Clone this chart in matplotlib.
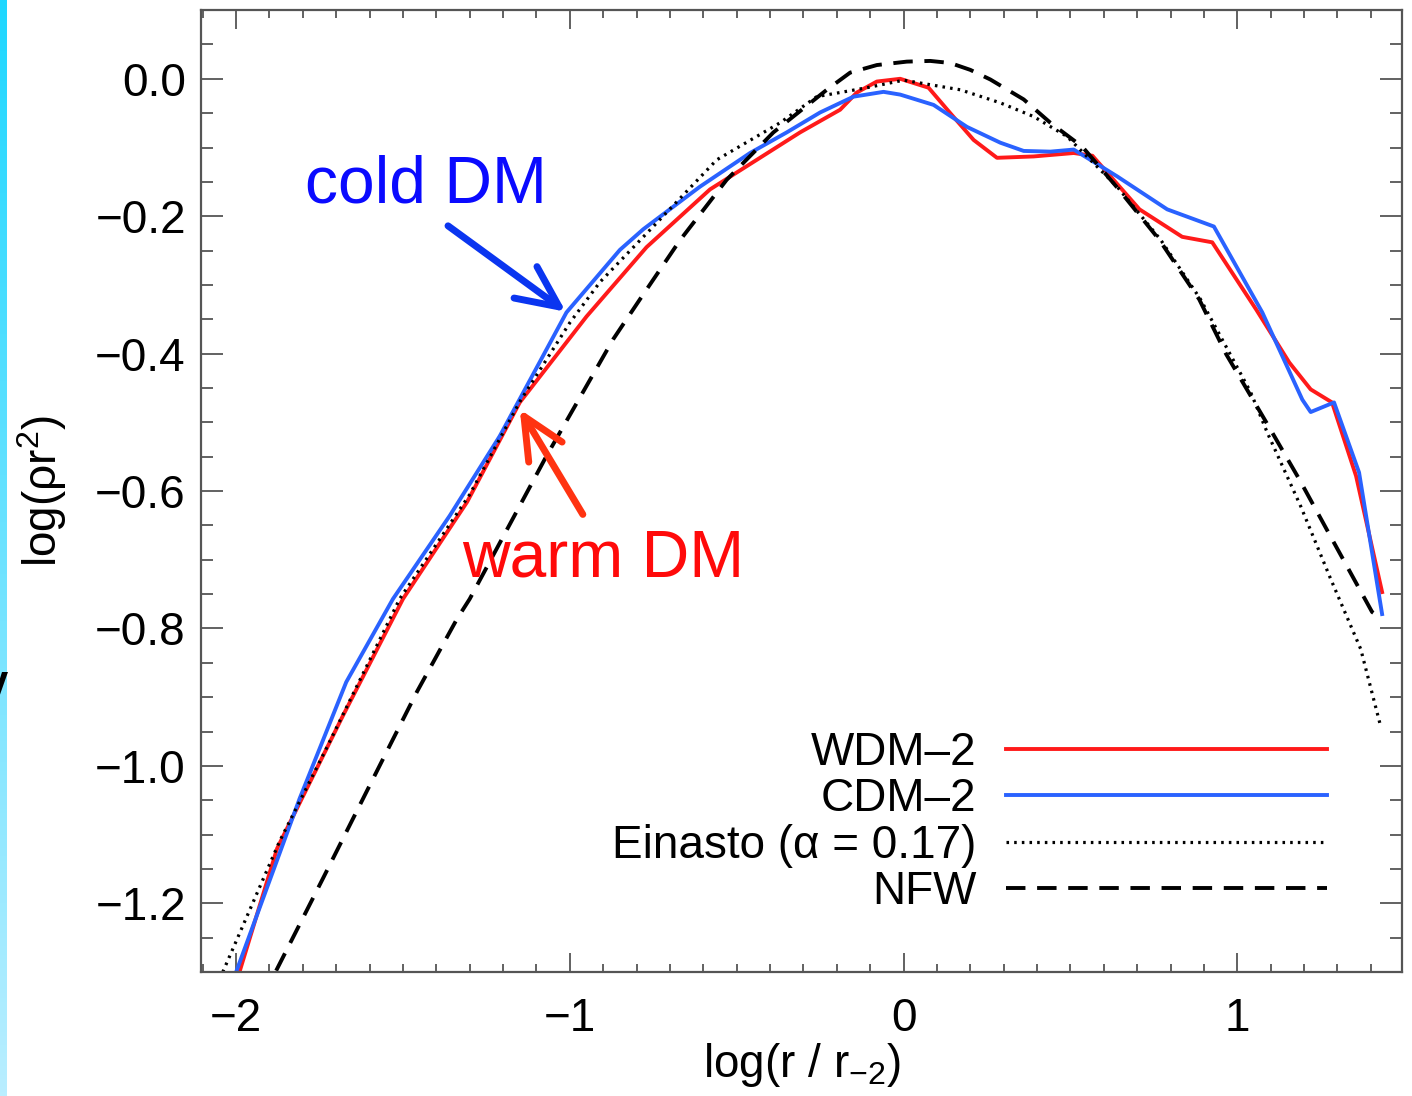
import matplotlib
matplotlib.use('Agg')
import matplotlib.pyplot as plt
import numpy as np
from matplotlib.ticker import MultipleLocator

plt.rcParams.update({
    'font.family': 'Liberation Sans',
    'mathtext.fontset': 'custom',
    'mathtext.rm': 'Liberation Sans',
    'mathtext.it': 'Liberation Sans',
    'mathtext.default': 'regular',
})

# profiles: log(r / r_-2) vs log(rho r^2)
wdm_x = [-1.99, -1.877, -1.68, -1.5, -1.308, -1.15, -0.95, -0.77, -0.58, -0.44, -0.31, -0.19,
         -0.14, -0.08, -0.01, 0.075, 0.14, 0.21, 0.28, 0.39, 0.51, 0.566, 0.707, 0.835, 0.925,
         1.057, 1.156, 1.22, 1.284, 1.356, 1.434]
wdm_y = [-1.30, -1.12, -0.927, -0.757, -0.616, -0.471, -0.346, -0.245, -0.161, -0.118, -0.078,
         -0.045, -0.02, -0.004, 0.0, -0.013, -0.05, -0.089, -0.115, -0.113, -0.108, -0.112, -0.19,
         -0.23, -0.238, -0.336, -0.413, -0.452, -0.471, -0.578, -0.747]

cdm_x = [-2.0, -1.81, -1.67, -1.53, -1.36, -1.21, -1.01, -0.85, -0.78, -0.61, -0.46, -0.35,
         -0.25, -0.15, -0.06, -0.01, 0.09, 0.19, 0.29, 0.36, 0.44, 0.51, 0.64, 0.79, 0.93,
         1.075, 1.195, 1.22, 1.29, 1.365, 1.434]
cdm_y = [-1.30, -1.048, -0.878, -0.757, -0.636, -0.52, -0.34, -0.249, -0.219, -0.157, -0.108,
         -0.078, -0.049, -0.026, -0.019, -0.023, -0.038, -0.07, -0.093, -0.105, -0.106, -0.103,
         -0.142, -0.19, -0.215, -0.34, -0.467, -0.485, -0.471, -0.573, -0.779]

ein_x = [-2.04, -1.87, -1.73, -1.51, -1.3, -1.15, -1.0, -0.91, -0.75, -0.56, -0.37, -0.26,
         -0.11, 0.0, 0.17, 0.29, 0.39, 0.49, 0.64, 0.77, 0.89, 1.04, 1.09, 1.19, 1.28, 1.37, 1.43]
ein_y = [-1.30, -1.11, -0.975, -0.757, -0.605, -0.47, -0.355, -0.296, -0.215, -0.118, -0.064,
         -0.026, -0.013, -0.002, -0.016, -0.035, -0.055, -0.084, -0.157, -0.234, -0.321, -0.456,
         -0.515, -0.622, -0.728, -0.83, -0.943]

nfw_x = [-1.88, -1.74, -1.59, -1.458, -1.338, -1.30, -1.07, -0.87, -0.79, -0.67, -0.53, -0.39,
         -0.23, -0.16, -0.08, 0.01, 0.08, 0.14, 0.2, 0.26, 0.36, 0.44, 0.536, 0.638, 0.766, 0.886,
         0.967, 1.087, 1.186, 1.284, 1.404, 1.434]
nfw_y = [-1.298, -1.164, -1.019, -0.892, -0.786, -0.757, -0.549, -0.379, -0.321, -0.235, -0.147,
         -0.078, -0.016, 0.009, 0.020, 0.025, 0.026, 0.023, 0.013, -0.001, -0.03, -0.064, -0.099,
         -0.157, -0.234, -0.321, -0.401, -0.5, -0.583, -0.67, -0.776, -0.786]

fig = plt.figure(figsize=(14.12, 10.96), dpi=100)
ax = fig.add_axes([0.1424, 0.1131, 0.8506, 0.8777])

ax.plot(wdm_x, wdm_y, color='#ff1a1a', lw=2.8, label='WDM\u20132')
ax.plot(cdm_x, cdm_y, color='#2a62ff', lw=2.8, label='CDM\u20132')
ax.plot(ein_x, ein_y, color='black', lw=2.3, linestyle=(0, (0.8, 1.6)),
        label='Einasto (\u03b1 = 0.17)')
ax.plot(nfw_x, nfw_y, color='black', lw=2.8, linestyle=(0, (5, 3)), label='NFW')

ax.set_xlim(-2.105, 1.494)
ax.set_ylim(-1.3, 0.1)
ax.xaxis.set_major_locator(MultipleLocator(1))
ax.xaxis.set_minor_locator(MultipleLocator(0.1))
ax.yaxis.set_major_locator(MultipleLocator(0.2))
ax.yaxis.set_minor_locator(MultipleLocator(0.05))
ax.tick_params(which='both', direction='in', top=True, right=True, color='#555555',
               width=1.3, labelsize=33)
ax.tick_params(axis='x', which='major', length=14, pad=18)
ax.tick_params(axis='x', which='minor', length=6)
ax.tick_params(axis='y', which='major', length=16, pad=11)
ax.tick_params(axis='y', which='minor', length=8.5)
for s in ax.spines.values():
    s.set_color('#555555')
    s.set_linewidth(1.6)

ax.set_xlabel('log(r / r$_{-2}$)', fontsize=33, va='top')
ax.xaxis.set_label_coords(0.5, -0.072)
ax.set_ylabel('log(\u03c1r$^2$)', fontsize=33)
ax.yaxis.set_label_coords(-0.11, 0.5)

ax.legend(loc='lower right', bbox_to_anchor=(0.9375, 0.0604), frameon=False, markerfirst=False,
          fontsize=33, handlelength=7.0, handletextpad=0.65, labelspacing=0.05,
          borderpad=0, borderaxespad=0)

# annotations
ax.text(-1.793, -0.18, 'cold DM', color='#0a0aff', fontsize=47.5, va='baseline')
ax.annotate('', xy=(-1.012, -0.339), xytext=(-1.365, -0.214),
            arrowprops=dict(arrowstyle='->,head_length=1.5,head_width=0.7', lw=5,
                            color='#0a35f0', mutation_scale=20, shrinkA=0, shrinkB=0))
ax.text(-1.323, -0.725, 'warm DM', color='#ff0a0a', fontsize=47.5, va='baseline')
ax.annotate('', xy=(-1.150, -0.481), xytext=(-0.961, -0.634),
            arrowprops=dict(arrowstyle='->,head_length=1.5,head_width=0.7', lw=5,
                            color='#ff3311', mutation_scale=20, shrinkA=0, shrinkB=0))

# slide remnants on the left edge
strip = fig.add_axes([0, 0, 6 / 1412, 1])
grad = np.linspace(0, 1, 256)[:, None]
top_c = np.array([30, 215, 255]) / 255
bot_c = np.array([185, 238, 255]) / 255
img = top_c[None, None, :] * (1 - grad[:, :, None]) + bot_c[None, None, :] * grad[:, :, None]
strip.imshow(img, aspect='auto', extent=(0, 1, 0, 1))
strip.axis('off')
fig.text(-0.011, 1 - 695 / 1096, 'v', fontsize=30, fontweight='bold', color='black')

fig.savefig('out.png', dpi=100)
